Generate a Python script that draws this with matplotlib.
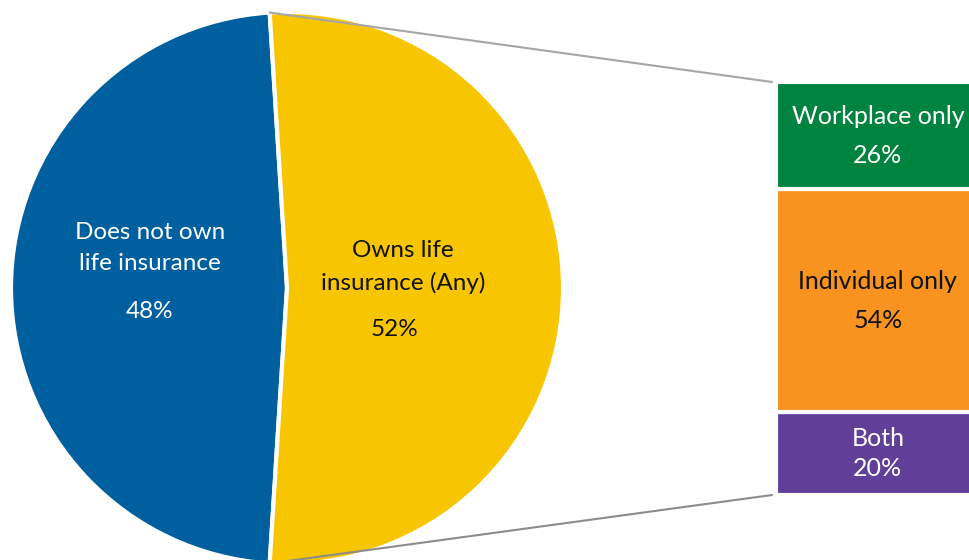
import matplotlib
matplotlib.use("Agg")
import matplotlib.pyplot as plt
from matplotlib.patches import ConnectionPatch
import numpy as np

# ---- data ----
pie_labels = ["Does not own\nlife insurance", "Owns life\ninsurance (Any)"]
pie_values = [48, 52]
pie_colors = ["#00609F", "#F8C600"]
pie_text_colors = ["white", "#111111"]

bar_labels = ["Both", "Individual only", "Workplace only"]
bar_values = [20, 54, 26]
bar_colors = ["#5F3F97", "#F7931E", "#00833F"]
bar_text_colors = ["white", "#111111", "white"]

plt.rcParams['font.family'] = ['Lato', 'DejaVu Sans']

W, H = 969, 560
fig = plt.figure(figsize=(W / 100, H / 100), dpi=100)
ax = fig.add_axes([0, 0, 1, 1])

cx, cy, R = 287, 272, 276
start = 180 - pie_values[0] / 100 * 360 / 2  # blue centred on the left
wedges, _ = ax.pie(pie_values, colors=pie_colors, startangle=start, counterclock=True,
                   center=(cx, cy), radius=R, frame=False,
                   wedgeprops=dict(edgecolor="white", linewidth=3))
ax.set_xlim(0, W)
ax.set_ylim(0, H)
ax.set_aspect("equal")
ax.axis("off")

# pie labels
fs_pie = 17.5
ax.text(150, 560 - 248, pie_labels[0], ha="center", va="center", color=pie_text_colors[0],
        fontsize=fs_pie, linespacing=1.58)
ax.text(150, 560 - 312, f"{pie_values[0]}%", ha="center", va="center",
        color=pie_text_colors[0], fontsize=fs_pie)
ax.text(403, 560 - 267, pie_labels[1], ha="center", va="center", color=pie_text_colors[1],
        fontsize=fs_pie, linespacing=1.58)
ax.text(395, 560 - 330, f"{pie_values[1]}%", ha="center", va="center",
        color=pie_text_colors[1], fontsize=fs_pie)

# bar of pie
bx0, by0, bw, bh = 776, 65, 196, 413
bax = fig.add_axes([bx0 / W, by0 / H, bw / W, bh / H])
bottom = 0
for lab, v, c, tc in zip(bar_labels, bar_values, bar_colors, bar_text_colors):
    bax.bar(0, v, width=1, bottom=bottom, color=c, edgecolor="white", linewidth=3)
    ls = 1.35 if v < 22 else 1.85
    bax.text(0.02, bottom + v / 2, f"{lab}\n{v}%", ha="center", va="center", color=tc,
             fontsize=18, linespacing=ls)
    bottom += v
bax.set_xlim(-0.5, 0.5)
bax.set_ylim(0, sum(bar_values))
bax.axis("off")

# connector lines from the "owns" wedge edges to the bar corners
yw = wedges[1]
for ang, yb, col in [(yw.theta2, sum(bar_values), "#A6A6A6"), (yw.theta1, 0, "#8C8C8C")]:
    px = cx + R * np.cos(np.deg2rad(ang))
    py = cy + R * np.sin(np.deg2rad(ang))
    con = ConnectionPatch(xyA=(px, py), coordsA=ax.transData,
                          xyB=(-0.52, yb), coordsB=bax.transData,
                          color=col, linewidth=1.5)
    fig.add_artist(con)

fig.savefig("out.png", dpi=100)
